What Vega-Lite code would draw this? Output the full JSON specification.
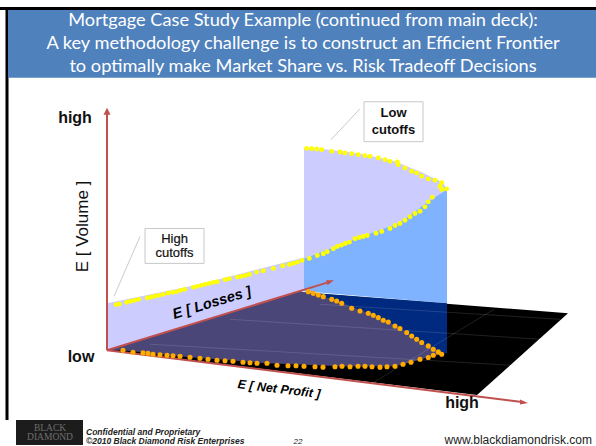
{"$schema":"https://vega.github.io/schema/vega-lite/v6.json","width":596,"height":446,"padding":0,"autosize":{"type":"fit","contains":"padding"},"background":"white","config":{"view":{"stroke":null}},
"resolve":{"scale":{"fill":"independent"}},
"encoding":{"x":{"field":"x","type":"quantitative","scale":{"domain":[0,596],"nice":false,"zero":false},"axis":null},"y":{"field":"y","type":"quantitative","scale":{"domain":[446,0],"nice":false,"zero":false},"axis":null}},
"layer":[
{"data":{"values":[{"part":"frame","x":0,"x2":596,"y":7,"y2":10},{"part":"frame","x":5.5,"x2":8.5,"y":7,"y2":421},{"part":"header","x":8,"x2":596,"y":10,"y2":78},{"part":"logo","x":16,"x2":83,"y":421,"y2":446}]},"mark":{"type":"rect"},"encoding":{"x2":{"field":"x2"},"y2":{"field":"y2"},"fill":{"field":"part","type":"nominal","legend":null,"scale":{"domain":["frame","header","logo"],"range":["#000000","#4f81bd","#1c1c1c"]}}}},
{"data":{"values":[
{"s":"plane","i":1,"x":107,"y":351},{"s":"plane","i":2,"x":300,"y":293},{"s":"plane","i":3,"x":568,"y":314},{"s":"plane","i":4,"x":477,"y":396},
{"s":"strip","i":1,"x":107,"y":304},{"s":"strip","i":2,"x":200,"y":285},{"s":"strip","i":3,"x":304,"y":258},{"s":"strip","i":4,"x":304,"y":292},{"s":"strip","i":5,"x":107,"y":351},
{"s":"upper","i":1,"x":304,"y":148},{"s":"upper","i":2,"x":330,"y":150},{"s":"upper","i":3,"x":360,"y":154},{"s":"upper","i":4,"x":393,"y":161},{"s":"upper","i":5,"x":420,"y":172},{"s":"upper","i":6,"x":443,"y":183},{"s":"upper","i":7,"x":447,"y":190},{"s":"upper","i":8,"x":428,"y":202},{"s":"upper","i":9,"x":400,"y":223},{"s":"upper","i":10,"x":367,"y":235},{"s":"upper","i":11,"x":333,"y":248},{"s":"upper","i":12,"x":304,"y":259},
{"s":"blue","i":1,"x":304,"y":259},{"s":"blue","i":2,"x":333,"y":248},{"s":"blue","i":3,"x":367,"y":235},{"s":"blue","i":4,"x":400,"y":223},{"s":"blue","i":5,"x":428,"y":202},{"s":"blue","i":6,"x":447,"y":190},{"s":"blue","i":7,"x":447,"y":304},{"s":"blue","i":8,"x":304,"y":292},
{"s":"navy","i":1,"x":304,"y":293},{"s":"navy","i":2,"x":447,"y":304},{"s":"navy","i":3,"x":447,"y":354},{"s":"navy","i":4,"x":400,"y":354},
{"s":"purple","i":1,"x":107,"y":351},{"s":"purple","i":2,"x":300,"y":292},{"s":"purple","i":3,"x":333,"y":300},{"s":"purple","i":4,"x":368,"y":314},{"s":"purple","i":5,"x":395,"y":326},{"s":"purple","i":6,"x":421,"y":343},{"s":"purple","i":7,"x":441,"y":355},{"s":"purple","i":8,"x":428,"y":358},{"s":"purple","i":9,"x":411,"y":363},{"s":"purple","i":10,"x":395,"y":367},{"s":"purple","i":11,"x":342,"y":367},{"s":"purple","i":12,"x":267,"y":364},{"s":"purple","i":13,"x":190,"y":358},{"s":"purple","i":14,"x":123,"y":351},
{"s":"red","i":1,"x":107,"y":108},{"s":"red","i":2,"x":110.5,"y":115},{"s":"red","i":3,"x":103.5,"y":115},
{"s":"red2","i":1,"x":334,"y":281},{"s":"red2","i":2,"x":326,"y":281},{"s":"red2","i":3,"x":327.5,"y":286},
{"s":"red3","i":1,"x":528,"y":404},{"s":"red3","i":2,"x":520,"y":400.5},{"s":"red3","i":3,"x":520,"y":405.5}
]},"mark":{"type":"line","strokeWidth":0},"encoding":{"order":{"field":"i","type":"quantitative"},"fill":{"field":"s","type":"nominal","legend":null,"scale":{"domain":["plane","strip","upper","blue","navy","purple","red","red2","red3"],"range":["#000000","#ccccff","#ccccff","#80b3ff","#002a80","#4a4678","#c0504d","#c0504d","#c0504d"]}}}},
{"data":{"values":[{"x":320,"y":305,"x2":560,"y2":320},{"x":230,"y":320,"x2":540,"y2":340},{"x":150,"y":345,"x2":510,"y2":366},{"x":494,"y":310,"x2":374,"y2":383}]},"mark":{"type":"rule","stroke":"#ffffff","strokeOpacity":0.16,"strokeWidth":0.8},"encoding":{"x2":{"field":"x2"},"y2":{"field":"y2"}}},
{"data":{"values":[{"x":107,"y":351,"x2":107,"y2":112},{"x":107,"y":351,"x2":328,"y2":283},{"x":107,"y":351,"x2":522,"y2":403}]},"mark":{"type":"rule","stroke":"#c0504d","strokeWidth":2},"encoding":{"x2":{"field":"x2"},"y2":{"field":"y2"}}},
{"data":{"values":[{"x":140,"y":237,"x2":114,"y2":297},{"x":360,"y":109,"x2":331,"y2":140}]},"mark":{"type":"rule","stroke":"#c4c4c4","strokeWidth":0.9},"encoding":{"x2":{"field":"x2"},"y2":{"field":"y2"}}},
{"data":{"values":[{"x":116,"y":305.3},{"x":119.3,"y":304.7},{"x":126.7,"y":303},{"x":130.7,"y":302},{"x":134.7,"y":301},{"x":138.7,"y":300},{"x":147.3,"y":298.7},{"x":151.3,"y":297.7},{"x":155.3,"y":296.7},{"x":159.3,"y":296},{"x":163.3,"y":295},{"x":168.3,"y":293.7},{"x":172.7,"y":293},{"x":176.7,"y":292.3},{"x":180.7,"y":291},{"x":184.7,"y":290},{"x":193.3,"y":288},{"x":197.3,"y":287},{"x":201.3,"y":286},{"x":205.3,"y":285},{"x":209.3,"y":284},{"x":213.3,"y":283},{"x":217.3,"y":282.3},{"x":225,"y":280.3},{"x":229.3,"y":279.3},{"x":237.3,"y":277.7},{"x":241.3,"y":277},{"x":245.3,"y":276},{"x":249.3,"y":275},{"x":256.7,"y":272.7},{"x":263.3,"y":271.3},{"x":273.3,"y":269},{"x":282.7,"y":266.3},{"x":289.3,"y":265},{"x":293.3,"y":264},{"x":297.3,"y":262.7},{"x":302,"y":261},{"x":309.3,"y":259},{"x":317.3,"y":256},{"x":323.3,"y":254.3},{"x":327.3,"y":252.3},{"x":333.3,"y":249.3},{"x":337.3,"y":247},{"x":341.3,"y":245.7},{"x":345.3,"y":244},{"x":349.3,"y":242.7},{"x":355,"y":239.3},{"x":359.3,"y":238},{"x":363.3,"y":237},{"x":367.3,"y":236},{"x":376,"y":233.7},{"x":381.7,"y":232},{"x":390,"y":229},{"x":395,"y":226},{"x":400,"y":224},{"x":405,"y":220.7},{"x":410,"y":217.3},{"x":415,"y":214},{"x":420,"y":211.7},{"x":425,"y":207.3},{"x":428.3,"y":202.3},{"x":432.3,"y":197.7},{"x":446.7,"y":189.3},{"x":441.7,"y":190},{"x":440,"y":186.7},{"x":441.7,"y":183},{"x":435,"y":180.7},{"x":428.3,"y":179.3},{"x":421.7,"y":176.7},{"x":416.7,"y":173.3},{"x":411.7,"y":171.7},{"x":405,"y":168.3},{"x":398.3,"y":165},{"x":397.3,"y":162.3},{"x":390,"y":161.7},{"x":385,"y":160},{"x":378.3,"y":158.3},{"x":370,"y":156.7},{"x":365,"y":156},{"x":358.3,"y":155},{"x":351.7,"y":154},{"x":345,"y":153.3},{"x":340,"y":152.3},{"x":331.7,"y":151.7},{"x":321.7,"y":150},{"x":316.7,"y":149.3},{"x":311.7,"y":149},{"x":306.7,"y":148.7}]},"mark":{"type":"circle","color":"#ffff00","size":24,"opacity":1}},
{"data":{"values":[{"x":308.3,"y":292.3},{"x":313.3,"y":294},{"x":318.3,"y":295.7},{"x":323.3,"y":297.3},{"x":331.7,"y":300},{"x":336.7,"y":301.7},{"x":341.7,"y":304},{"x":351.7,"y":309},{"x":360,"y":311.7},{"x":368.3,"y":314},{"x":373.3,"y":316},{"x":378.3,"y":318.3},{"x":383.3,"y":321},{"x":388.3,"y":322.7},{"x":395,"y":326.7},{"x":400,"y":329.3},{"x":406.7,"y":333.3},{"x":411.7,"y":336.7},{"x":416.7,"y":340},{"x":421.7,"y":343.3},{"x":428.3,"y":346.7},{"x":433.3,"y":350},{"x":438.3,"y":352.7},{"x":441.7,"y":355},{"x":433.3,"y":356},{"x":428.3,"y":358.3},{"x":420,"y":360},{"x":411,"y":363},{"x":403,"y":365},{"x":395,"y":367},{"x":387,"y":367.5},{"x":380,"y":368},{"x":372,"y":367.5},{"x":365,"y":367},{"x":358,"y":367},{"x":350,"y":367.5},{"x":342,"y":367},{"x":335,"y":367.5},{"x":323,"y":368},{"x":315,"y":367.5},{"x":304,"y":367},{"x":296,"y":366.5},{"x":288,"y":366.5},{"x":277,"y":366},{"x":267,"y":364},{"x":257,"y":364},{"x":250,"y":363.5},{"x":243,"y":363},{"x":233,"y":362},{"x":225,"y":361.5},{"x":217,"y":361},{"x":208,"y":360},{"x":200,"y":359},{"x":190,"y":358},{"x":180,"y":357},{"x":173,"y":356.5},{"x":167,"y":356},{"x":160,"y":355.5},{"x":153,"y":355},{"x":148,"y":354},{"x":143,"y":353.5},{"x":133,"y":353},{"x":123,"y":351}]},"mark":{"type":"circle","color":"#ffab00","size":26,"opacity":1}},
{"data":{"values":[{"x":145,"x2":204,"y":229,"y2":264},{"x":364,"x2":423,"y":102,"y2":142}]},"mark":{"type":"rect","fill":"#ffffff","stroke":"#c8c8c8","strokeWidth":1},"encoding":{"x2":{"field":"x2"},"y2":{"field":"y2"}}},
{"data":{"values":[{"x":303,"y":21,"label":"Mortgage Case Study Example (continued from main deck):"},{"x":303,"y":44,"label":"A key methodology challenge is to construct an Efficient Frontier"},{"x":303,"y":67,"label":"to optimally make Market Share vs. Risk Tradeoff Decisions"}]},"mark":{"type":"text","font":"Lato","fontSize":18.2,"fill":"#ffffff","align":"center","baseline":"middle"},"encoding":{"text":{"field":"label"}}},
{"data":{"values":[{"x":75,"y":123,"label":"high"},{"x":81,"y":363,"label":"low"},{"x":462,"y":409,"label":"high"}]},"mark":{"type":"text","font":"Liberation Sans","fontSize":16,"fontWeight":"bold","fill":"#111111","align":"center","baseline":"alphabetic"},"encoding":{"text":{"field":"label"}}},
{"data":{"values":[{"x":88,"y":227,"label":"E  [ Volume ]"}]},"mark":{"type":"text","font":"Liberation Sans","fontSize":17,"angle":270,"fill":"#111111","align":"center","baseline":"alphabetic"},"encoding":{"text":{"field":"label"}}},
{"data":{"values":[{"x":212,"y":304,"label":"E [ Losses ]"}]},"mark":{"type":"text","font":"Liberation Sans","fontSize":14.5,"fontWeight":"bold","fontStyle":"italic","angle":343,"fill":"#000000","align":"center","baseline":"middle"},"encoding":{"text":{"field":"label"}}},
{"data":{"values":[{"x":279,"y":390,"label":"E [ Net Profit ]"}]},"mark":{"type":"text","font":"Liberation Sans","fontSize":12.5,"fontWeight":"bold","fontStyle":"italic","angle":7,"fill":"#000000","align":"center","baseline":"middle"},"encoding":{"text":{"field":"label"}}},
{"data":{"values":[{"x":174.5,"y":240,"label":"High"},{"x":174.5,"y":254,"label":"cutoffs"}]},"mark":{"type":"text","font":"Liberation Sans","fontSize":13,"fill":"#111111","align":"center","baseline":"middle","stroke":"#111111","strokeWidth":0.2},"encoding":{"text":{"field":"label"}}},
{"data":{"values":[{"x":393.5,"y":113,"label":"Low"},{"x":393.5,"y":130,"label":"cutoffs"}]},"mark":{"type":"text","font":"Liberation Sans","fontSize":13,"fontWeight":"bold","fill":"#111111","align":"center","baseline":"middle"},"encoding":{"text":{"field":"label"}}},
{"data":{"values":[{"x":86,"y":436,"label":"Confidential and Proprietary"},{"x":86,"y":445,"label":"©2010 Black Diamond Risk Enterprises"}]},"mark":{"type":"text","font":"Liberation Sans","fontSize":8.5,"fontWeight":"bold","fontStyle":"italic","fill":"#222222","align":"left","baseline":"alphabetic"},"encoding":{"text":{"field":"label"}}},
{"data":{"values":[{"x":298,"y":445,"label":"22"}]},"mark":{"type":"text","font":"Liberation Sans","fontSize":8,"fontStyle":"italic","fill":"#222222","align":"center","baseline":"alphabetic"},"encoding":{"text":{"field":"label"}}},
{"data":{"values":[{"x":592,"y":445,"label":"www.blackdiamondrisk.com"}]},"mark":{"type":"text","font":"Liberation Sans","fontSize":12,"fill":"#222222","align":"right","baseline":"alphabetic"},"encoding":{"text":{"field":"label"}}},
{"data":{"values":[{"x":50,"y":432,"label":"BLACK"},{"x":50,"y":441,"label":"DIAMOND"}]},"mark":{"type":"text","font":"Liberation Serif","fontSize":9.5,"fill":"#8a8a8a","opacity":0.75,"align":"center","baseline":"alphabetic"},"encoding":{"text":{"field":"label"}}}
]}
